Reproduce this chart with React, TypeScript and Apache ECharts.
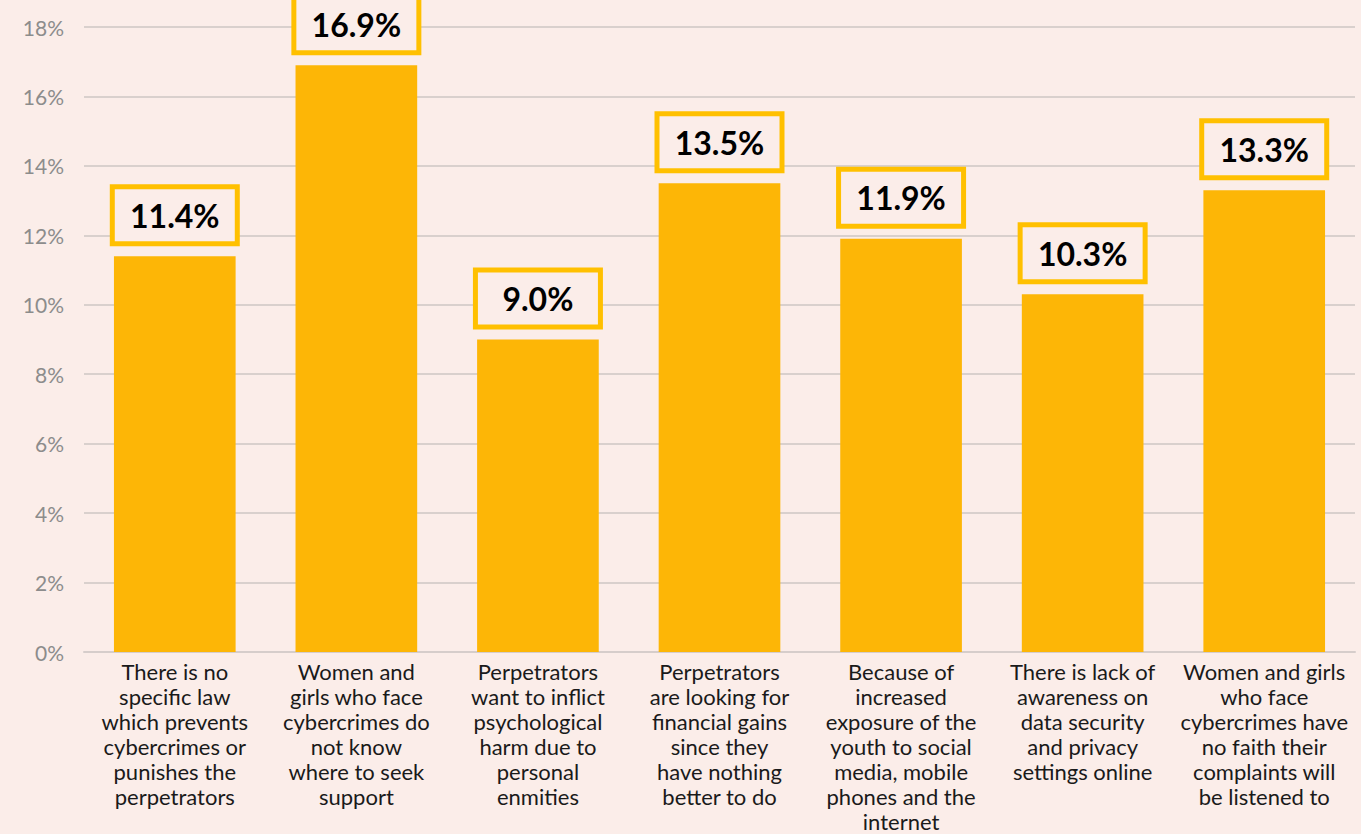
import React, { useEffect, useRef } from "react";
import * as echarts from "echarts";

const categories = [
  "There is no\nspecific law\nwhich prevents\ncybercrimes or\npunishes the\nperpetrators",
  "Women and\ngirls who face\ncybercrimes do\nnot know\nwhere to seek\nsupport",
  "Perpetrators\nwant to inflict\npsychological\nharm due to\npersonal\nenmities",
  "Perpetrators\nare looking for\nfinancial gains\nsince they\nhave nothing\nbetter to do",
  "Because of\nincreased\nexposure of the\nyouth to social\nmedia, mobile\nphones and the\ninternet",
  "There is lack of\nawareness on\ndata security\nand privacy\nsettings online",
  "Women and girls\nwho face\ncybercrimes have\nno faith their\ncomplaints will\nbe listened to",
];
const values = [11.4, 16.9, 9.0, 13.5, 11.9, 10.3, 13.3];
const yTicks = [0, 2, 4, 6, 8, 10, 12, 14, 16, 18];

const BG = "#FBEDE9";
const BAR = "#FDB606";
const BOX = "#FFC000";

export default function App() {
  const ref = useRef<HTMLDivElement>(null);
  useEffect(() => {
    if (!ref.current) return;
    const chart = echarts.init(ref.current, null, { renderer: "svg" });
    chart.setOption({
      animation: false,
      backgroundColor: BG,
      grid: { left: 84, right: 6, top: 27, bottom: 175 },
      xAxis: {
        type: "category",
        data: categories,
        axisTick: { show: false },
        axisLine: { show: true, lineStyle: { color: "#D6CDCB", width: 2 } },
        axisLabel: {
          interval: 0,
          color: "#1a1a1a",
          fontFamily: "Lato",
          fontSize: 22,
          lineHeight: 25,
          margin: 7,
          align: "center",
        },
      },
      yAxis: {
        type: "value",
        min: yTicks[0],
        max: yTicks[yTicks.length - 1],
        interval: 2,
        axisLine: { show: false },
        axisTick: { show: false },
        splitLine: { lineStyle: { color: "#D9D0CD", width: 2 } },
        axisLabel: {
          color: "#8C8C8C",
          fontFamily: "Lato",
          fontSize: 21,
          margin: 20,
          formatter: (v: number) => `${v}%`,
        },
      },
      series: [
        {
          type: "bar",
          data: values,
          barCategoryGap: "33%",
          itemStyle: { color: BAR },
          label: {
            show: true,
            position: "top",
            distance: 15,
            formatter: (p: any) => `${p.value.toFixed(1)}%`,
            color: "#000",
            fontFamily: "Lato",
            fontWeight: "bold",
            fontSize: 32,
            lineHeight: 32,
            width: 100,
            align: "center",
            padding: [10, 10],
            backgroundColor: BG,
            borderColor: BOX,
            borderWidth: 5,
          },
        },
      ],
    });
    return () => chart.dispose();
  }, []);
  return (
    <div
      ref={ref}
      style={{ position: "absolute", left: 0, top: 0, width: 1361, height: 834 }}
    />
  );
}
